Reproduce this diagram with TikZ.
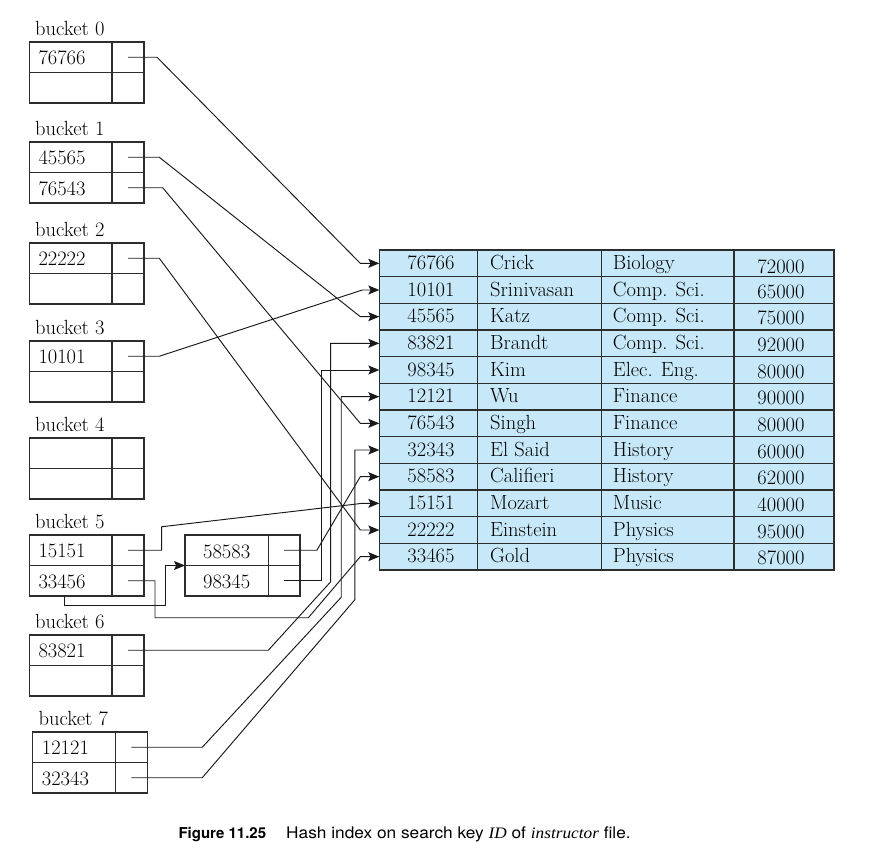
\documentclass[tikz,border=0pt]{standalone}
\usepackage{fontspec}
\setsansfont{TeX Gyre Heros}
\newfontfamily\capserif{Liberation Serif}
\usetikzlibrary{arrows.meta,calc}
\definecolor{tblue}{RGB}{199,232,248}
\definecolor{lnc}{RGB}{45,45,45}
\tikzset{
  cell/.style={draw=lnc, line width=1.1pt, inner sep=0pt, outer sep=0pt, minimum height=30.5pt},
  trow/.style={draw=lnc, fill=tblue, line width=1.1pt, inner sep=0pt, outer sep=0pt, minimum width=454.7pt, minimum height=26.667pt},
  tline/.style={draw=lnc, line width=1.1pt},
  txt/.style={font=\fontsize{20.5}{24}\selectfont, inner sep=0pt},
  capt/.style={font=\fontsize{15}{18}\selectfont\sffamily, inner sep=0pt},
  captb/.style={font=\fontsize{16}{19}\selectfont\sffamily, inner sep=0pt},
  ptr/.style={draw=black!90, line width=0.95pt, line join=miter},
  arr/.style={ptr, -{Stealth[length=11pt,width=9pt,inset=2.2pt]}}
}
\newcommand\bucketbox[6]{%
  \node[txt, anchor=base west] (#1-lbl) at ({#2+5.7},{#3-6.5}) {#4};
  \node[cell, minimum width=82.7pt, anchor=north west] (#1-k1) at (#2,#3) {};
  \node[cell, minimum width=32pt, anchor=north west] (#1-p1) at (#1-k1.north east) {};
  \node[cell, minimum width=82.7pt, anchor=north west] (#1-k2) at (#1-k1.south west) {};
  \node[cell, minimum width=32pt, anchor=north west] (#1-p2) at (#1-k2.north east) {};
  \node[txt, anchor=base west] (#1-t1) at ([shift={(9pt,-7.5pt)}]#1-k1.west) {#5};
  \node[txt, anchor=base west] (#1-t2) at ([shift={(9pt,-7.5pt)}]#1-k2.west) {#6};
}
\begin{document}
\begin{tikzpicture}[x=1pt,y=-1pt]
\useasboundingbox (0,0) rectangle (878,861);

% buckets
\bucketbox{b0}{29.3}{42}{bucket 0}{76766}{}
\bucketbox{b1}{29.3}{142}{bucket 1}{45565}{76543}
\bucketbox{b2}{29.3}{243}{bucket 2}{22222}{}
\bucketbox{b3}{29.3}{341}{bucket 3}{10101}{}
\bucketbox{b4}{29.3}{438}{bucket 4}{}{}
\bucketbox{b5}{29.3}{535}{bucket 5}{15151}{33456}
\bucketbox{b6}{29.3}{635}{bucket 6}{83821}{}
\bucketbox{b7}{32.7}{732}{bucket 7}{12121}{32343}

% overflow bucket
\node[cell, minimum width=83.3pt, anchor=north west] (ov-k1) at (185,535) {};
\node[cell, minimum width=31.7pt, anchor=north west] (ov-p1) at (ov-k1.north east) {};
\node[cell, minimum width=83.3pt, anchor=north west] (ov-k2) at (ov-k1.south west) {};
\node[cell, minimum width=31.7pt, anchor=north west] (ov-p2) at (ov-k2.north east) {};
\node[txt, anchor=base] (ov-t1) at ([yshift=-8pt]ov-k1.center) {58583};
\node[txt, anchor=base] (ov-t2) at ([yshift=-7.5pt]ov-k2.center) {98345};

% table
\foreach \vid/\vnm/\vdept/\vsal [count=\i] in {
  76766/Crick/Biology/72000,
  10101/Srinivasan/Comp. Sci./65000,
  45565/Katz/Comp. Sci./75000,
  83821/Brandt/Comp. Sci./92000,
  98345/Kim/Elec. Eng./80000,
  12121/Wu/Finance/90000,
  76543/Singh/Finance/80000,
  32343/El Said/History/60000,
  58583/Califieri/History/62000,
  15151/Mozart/Music/40000,
  22222/Einstein/Physics/95000,
  33465/Gold/Physics/87000}{
  \pgfmathsetmacro\ytop{250+(\i-1)*26.667}
  \pgfmathsetmacro\yc{250+(\i-0.5)*26.667}
  \pgfmathsetmacro\soff{\i==1 ? 10 : 8}
  \node[trow, anchor=north west] (r\i) at (379.3,\ytop) {};
  \node[txt, anchor=base] (r\i-id) at (431,{\yc+6.3}) {\vid};
  \node[txt, anchor=base west] (r\i-nm) at (490,{\yc+6.3}) {\vnm};
  \node[txt, anchor=base west] (r\i-dp) at (612.7,{\yc+6.3}) {\vdept};
  \node[txt, anchor=base] (r\i-sal) at (781,{\yc+\soff}) {\vsal};
}
\foreach \cx in {477.3,601.3,734}
  \draw[tline] (\cx,250) -- (\cx,570);

% connectors
\draw[arr] (b0-p1.center) -- ++(29,0) -- ([xshift=-19pt]r1.west) -- (r1.west);
\draw[arr] (b1-p1.center) -- ++(31.3,0) -- ([xshift=-19pt]r3.west) -- (r3.west);
\draw[arr] (b1-p2.center) -- ++(34.7,0) -- ([xshift=-19pt]r7.west) -- (r7.west);
\draw[arr] (b2-p1.center) -- ++(31.3,0) -- ([xshift=-19pt]r11.west) -- (r11.west);
\draw[arr] (b3-p1.center) -- ++(31.3,0) -- ([xshift=-17pt]r2.west) -- (r2.west);
\draw[arr] (b5-p1.center) -- ++(33.7,0) -- ++(0,-23.5) -- ([xshift=-17pt]r10.west) -- (r10.west);
\draw[arr] ([xshift=35pt]b5-k2.south west) -- ++(0,9) -| ([xshift=-20pt]ov-k1.south west) -- (ov-k1.south west);
\draw[arr] (b5-p2.center) -- ++(27,0) -- ++(0,37) -- ++(153.3,0) -- ([xshift=-19pt]r12.west) -- (r12.west);
\draw[arr] (ov-p1.center) -- ++(32.7,0) -- ([xshift=-19pt]r9.west) -- (r9.west);
\draw[arr] (ov-p2.center) -- ++(37.7,0) |- (r5.west);
\draw[arr] (b6-p1.center) -- ++(140.3,0) -- ++(62.4,-68.5) |- (r4.west);
\draw[arr] (b7-p1.center) -- ++(70.85,0) -- ++(139,-150) |- (r6.west);
\draw[arr] (b7-p2.center) -- ++(70.85,0) -- ++(152.6,-178) |- (r8.west);

% caption
\node[capt, anchor=base west] (fig) at (178.3,838.3) {\bfseries Figure 11.25};
\node[captb, anchor=base west] (cap) at (286,838.3) {\scalebox{1.08}[1]{Hash index on search key {\capserif\itshape ID} of {\capserif\itshape instructor} file.}};
\end{tikzpicture}
\end{document}
